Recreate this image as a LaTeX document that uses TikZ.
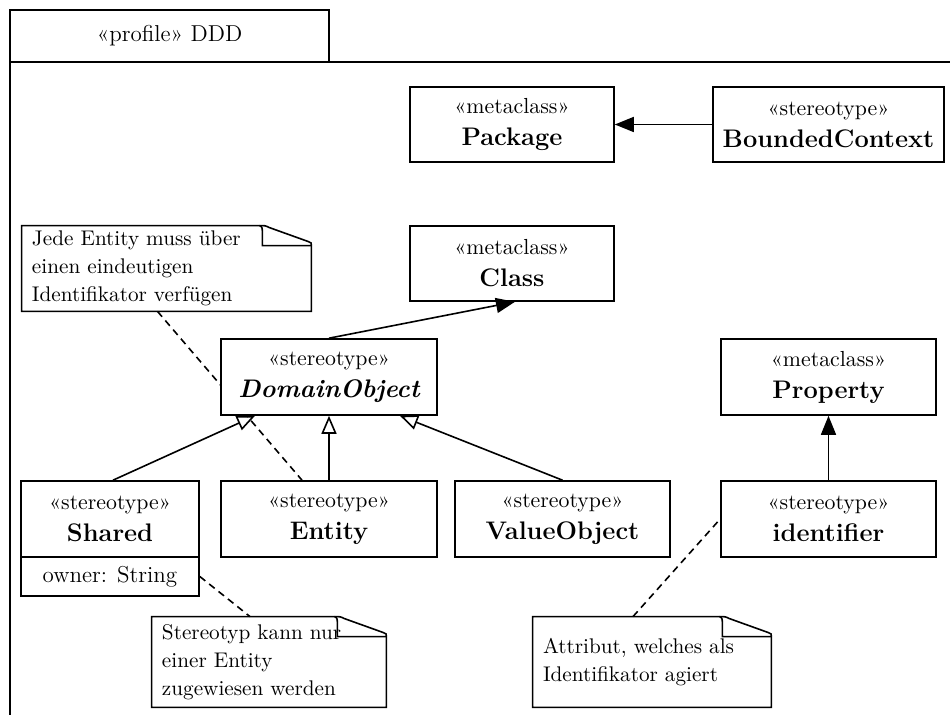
\documentclass[tikz,border=0pt]{standalone}
\usepackage{fontspec}
\usetikzlibrary{arrows.meta,backgrounds}

\tikzset{
  classbox/.style={draw, line width=0.8pt, fill=white, align=center, inner sep=0pt,
    font=\fontsize{10.9}{16}\selectfont},
  attrbox/.style={draw, line width=0.8pt, fill=white, inner sep=0pt,
    font=\fontsize{11.5}{14}\selectfont},
  notebox/.style={inner xsep=5pt, inner ysep=0pt, align=left,
    font=\fontsize{10.6}{14}\selectfont},
  extends/.style={line width=0.8pt, -{Triangle[length=9.5pt,width=7.5pt]}},
  generalizes/.style={line width=0.8pt, -{Triangle[open,length=9pt,width=7.5pt]}},
  anchorline/.style={line width=0.8pt, dash pattern=on 3.5pt off 2.5pt},
}
\newcommand\umlname[1]{{\fontsize{12.7}{16}\selectfont\bfseries #1}}

% outline of a note with a folded top-right corner, drawn around node #1
\newcommand\dognote[1]{%
  \draw[line width=0.8pt] (#1.north west)
    -- ([xshift=-26pt]#1.north east)
    .. controls ([xshift=-23pt]#1.north east) .. ([xshift=-21pt,yshift=-1pt]#1.north east)
    -- ([xshift=-1.5pt,yshift=-8pt]#1.north east)
    .. controls ([yshift=-8.6pt]#1.north east) .. ([yshift=-10pt]#1.north east)
    -- (#1.south east) -- (#1.south west) -- cycle;
  \draw[line width=0.8pt] ([xshift=-26pt]#1.north east)
    .. controls ([xshift=-24.5pt]#1.north east) and ([xshift=-24.5pt,yshift=-2pt]#1.north east)
    .. ([xshift=-24.5pt,yshift=-4pt]#1.north east)
    -- ([xshift=-24.5pt,yshift=-10pt]#1.north east)
    -- ([yshift=-10pt]#1.north east);
}

\begin{document}
\begin{tikzpicture}[x=1pt,y=-1pt]
\useasboundingbox (0,0) rectangle (475,357.5);

% profile frame with its name tab
\node[draw, line width=0.8pt, minimum width=159.5pt, minimum height=26pt, inner sep=0pt,
      font=\fontsize{11.5}{13}\selectfont] (tab) at (84.75,18) {«profile» DDD};
\draw[line width=0.8pt] (5,358) -- (5,31) -- (476,31);

% metaclasses and stereotypes
\node[classbox, minimum width=102pt, minimum height=37.5pt] (package) at (256,62.25)
  {«metaclass»\\\umlname{Package}};
\node[classbox, minimum width=115.5pt, minimum height=37.5pt] (bounded) at (414.25,62.25)
  {«stereotype»\\\umlname{BoundedContext}};
\node[classbox, minimum width=102pt, minimum height=37.5pt] (class) at (256,131.75)
  {«metaclass»\\\umlname{Class}};
\node[classbox, minimum width=108pt, minimum height=38pt] (domain) at (164.5,188.5)
  {«stereotype»\\\umlname{\itshape DomainObject}};
\node[classbox, minimum width=107.5pt, minimum height=38pt] (property) at (414.25,188.5)
  {«metaclass»\\\umlname{Property}};
\node[classbox, minimum width=89pt, minimum height=38pt] (shared) at (55,259.5)
  {«stereotype»\\\umlname{Shared}};
\node[attrbox, minimum width=89pt, minimum height=19.5pt] (sharedattr) at (55,288.25)
  {owner: String};
\node[classbox, minimum width=108pt, minimum height=38pt] (entity) at (164.5,259.5)
  {«stereotype»\\\umlname{Entity}};
\node[classbox, minimum width=107.5pt, minimum height=38pt] (valueobj) at (281.25,259.5)
  {«stereotype»\\\umlname{ValueObject}};
\node[classbox, minimum width=107.5pt, minimum height=38pt] (identifier) at (414.25,259.5)
  {«stereotype»\\\umlname{identifier}};

% notes
\node[notebox, minimum width=144.5pt, minimum height=42.5pt, text width=134.5pt] (note1)
  at (83.25,134.25) {Jede Entity muss über\\einen eindeutigen\\Identifikator verfügen};
\node[notebox, minimum width=117pt, minimum height=45pt, text width=107pt] (note2)
  at (134.5,331) {Stereotyp kann nur\\einer Entity\\zugewiesen werden};
\node[notebox, minimum width=119pt, minimum height=45pt, text width=109pt] (note3)
  at (326,331) {Attribut, welches als\\Identifikator agiert};
\dognote{note1}
\dognote{note2}
\dognote{note3}

% extensions
\draw[extends] (bounded.west) -- (package.east);
\draw[extends] (domain.north) -- ([xshift=1.5pt]class.south);
\draw[extends] (identifier.north) -- (property.south);

% generalizations
\draw[generalizes] ([xshift=1.5pt]shared.north) -- ([xshift=-37pt]domain.south);
\draw[generalizes] (entity.north) -- (domain.south);
\draw[generalizes] (valueobj.north) -- ([xshift=35.5pt]domain.south);

% note anchors
\begin{pgfonlayer}{background}
\draw[anchorline] ([xshift=-4.5pt]note1.south) -- ([xshift=-13.5pt]entity.north);
\end{pgfonlayer}
\draw[anchorline] (sharedattr.east) -- ([xshift=-9.5pt]note2.north);
\draw[anchorline] ([xshift=-9.5pt]note3.north) -- (identifier.west);
\end{tikzpicture}
\end{document}
